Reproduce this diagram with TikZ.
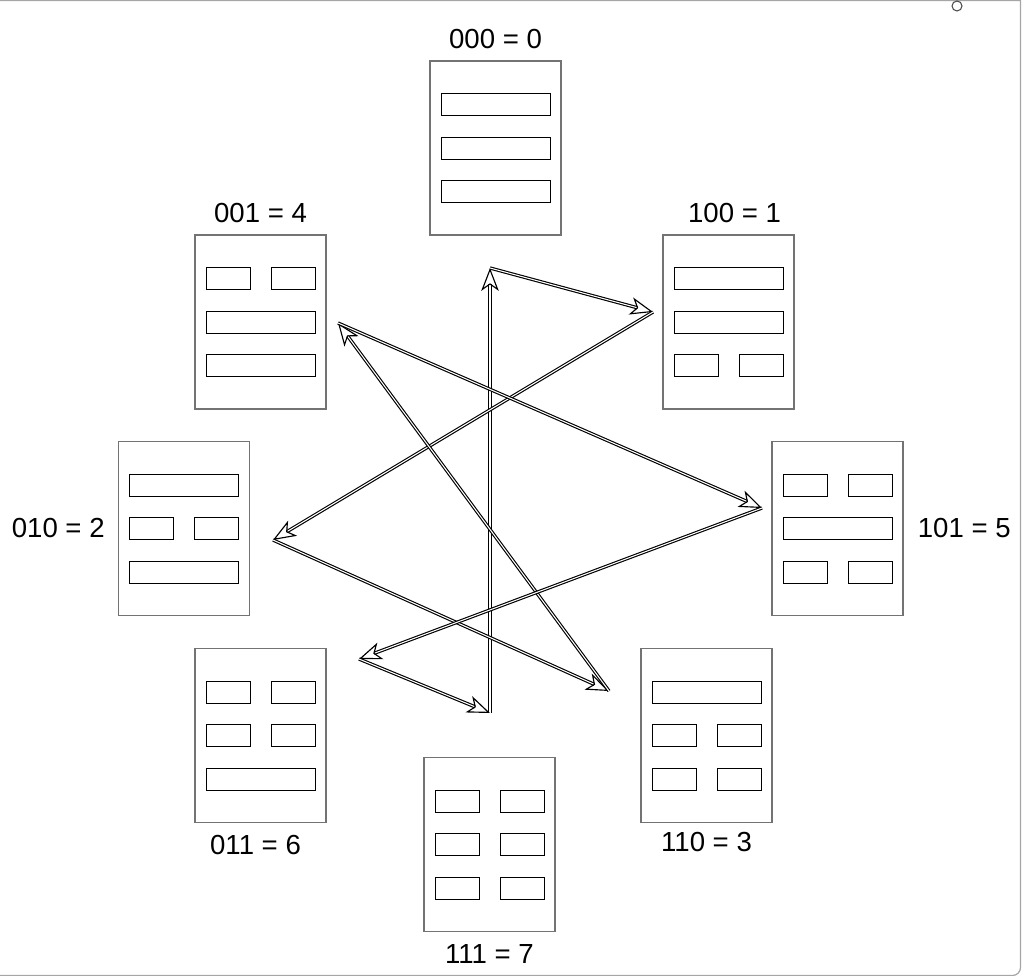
\documentclass[tikz,border=0pt]{standalone}
\usepackage{fontspec}
\setmainfont{Liberation Sans}
\usetikzlibrary{arrows.meta, calc, positioning}

\tikzset{
  card/.style={draw=black!55, line width=0.6pt, minimum width=2.62cm, minimum height=3.48cm, inner sep=0},
  whole/.style={draw, line width=0.5pt, minimum width=2.18cm, minimum height=0.44cm, inner sep=0},
  broken/.style={draw, line width=0.5pt, minimum width=0.88cm, minimum height=0.44cm, inner sep=0},
  tag/.style={inner sep=0, font=\fontsize{15.7}{18}\selectfont},
  link/.style={line width=0.65pt, double=white, double distance=0.6pt,
    -{Stealth[open, length=13pt, width=10pt, inset=3.5pt]}},
  frame/.style={draw=black!35, line width=0.7pt},
}

% one row of a card: card, row name, offset, bit (0 whole, 1 broken)
\newcommand{\cardrow}[4]{%
  \ifnum#4=0
    \node[whole] (#1-#2) at ($(#1)+(0,#3)$) {};
  \else
    \node[broken] (#1-#2l) at ($(#1)+(-32.5,#3)$) {};
    \node[broken] (#1-#2r) at ($(#1)+(32.5,#3)$) {};
  \fi}
% a whole card: name, centre, bits read bottom, middle, top
\newcommand{\trigram}[5]{%
  \node[card] (#1) at (#2) {};
  \cardrow{#1}{top}{-43.5}{#5}
  \cardrow{#1}{mid}{0}{#4}
  \cardrow{#1}{bot}{43.5}{#3}}

\begin{document}
\begin{tikzpicture}[x=0.02cm, y=-0.02cm]
  \useasboundingbox (0,0) rectangle (1024,976);
  \draw[frame] (0,0.5) -- (1020.5,0.5) [rounded corners=0.16cm] -- (1020.5,975.5) -- (0,975.5);
  \draw[black!70, line width=0.6pt] (957,6) circle[radius=0.1cm];

  % cards
  \trigram{c000}{495.5,148}{0}{0}{0}
  \trigram{c100}{728.5,322}{1}{0}{0}
  \trigram{c010}{184,528.5}{0}{1}{0}
  \trigram{c110}{706.5,735.5}{1}{1}{0}
  \trigram{c001}{260.5,322}{0}{0}{1}
  \trigram{c101}{837.5,528.5}{1}{0}{1}
  \trigram{c011}{260.5,735.5}{0}{1}{1}
  \trigram{c111}{489.5,844.5}{1}{1}{1}

  % labels
  \node[tag, above=0.22cm of c000] (t000) {000 = 0};
  \node[tag, above=0.22cm of c100, xshift=0.12cm] (t100) {100 = 1};
  \node[tag, left=0.26cm of c010] (t010) {010 = 2};
  \node[tag, below=0.18cm of c110] (t110) {110 = 3};
  \node[tag, above=0.22cm of c001] (t001) {001 = 4};
  \node[tag, right=0.28cm of c101] (t101) {101 = 5};
  \node[tag, below=0.24cm of c011, xshift=-0.1cm] (t011) {011 = 6};
  \node[tag, below=0.24cm of c111] (t111) {111 = 7};

  % path through the numbers
  \coordinate (p0) at (490,268);
  \coordinate (p1) at (653,312);
  \coordinate (p2) at (273,540);
  \coordinate (p3) at (609,691);
  \coordinate (p4) at (338,323);
  \coordinate (p5) at (762,508);
  \coordinate (p6) at (359,659);
  \coordinate (p7) at (490,713);
  \draw[link] (p7) -- (p0);
  \draw[link] (p0) -- (p1);
  \draw[link] (p1) -- (p2);
  \draw[link] (p2) -- (p3);
  \draw[link] (p3) -- (p4);
  \draw[link] (p4) -- (p5);
  \draw[link] (p5) -- (p6);
  \draw[link] (p6) -- (p7);
\end{tikzpicture}
\end{document}
